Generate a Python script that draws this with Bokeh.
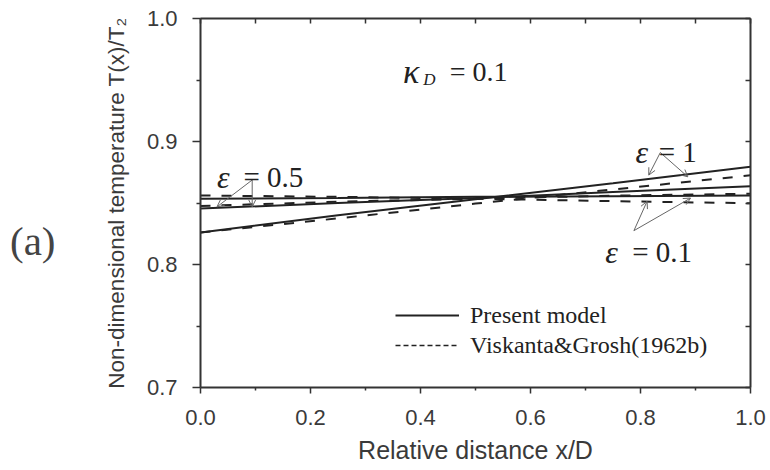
from bokeh.plotting import figure
from bokeh.models import (Range1d, LinearAxis, FixedTicker, PrintfTickFormatter, Label,
                          Arrow, OpenHead, ColumnDataSource, Legend, LegendItem)
from bokeh.embed import file_html
from bokeh.resources import INLINE

# ---------------- data ----------------
x_pos = [0.0, 0.25, 0.5, 0.75, 1.0]
present_eps1 = [0.826, 0.840, 0.853, 0.866, 0.8795]
viskanta_eps1 = [0.826, 0.8375, 0.8495, 0.861, 0.8725]
present_eps05 = [0.8455, 0.850, 0.854, 0.859, 0.8636]
viskanta_eps05 = [0.8476, 0.851, 0.8535, 0.856, 0.8575]
present_eps01 = [0.8534, 0.854, 0.855, 0.8555, 0.856]
viskanta_eps01 = [0.8561, 0.855, 0.8535, 0.8515, 0.8498]

x_ticks = [0.0, 0.2, 0.4, 0.6, 0.8, 1.0]
x_minor = [0.1, 0.3, 0.5, 0.7, 0.9]
y_ticks = [0.7, 0.8, 0.9, 1.0]
y_minor = [0.75, 0.85, 0.95]

legend_labels = ["Present model", "Viskanta&Grosh(1962b)"]
x_title = "Relative distance x/D"
y_title = "Non-dimensional temperature T(x)/T\u2082"
panel_tag = "(a)"
panel_tag_at = 0.8195

# annotation arrows (label anchor -> curve)
arrow_x0 = [0.094, 0.094, 0.836, 0.836, 0.788, 0.788]
arrow_y0 = [0.8687, 0.8687, 0.891, 0.891, 0.8275, 0.8275]
arrow_x1 = [0.030, 0.094, 0.815, 0.886, 0.812, 0.891]
arrow_y1 = [0.8469, 0.8469, 0.8727, 0.8713, 0.8514, 0.854]

INK = "#222222"
AX = "#333333"
TXT = "#3a3a3a"

p = figure(width=766, height=466, x_range=Range1d(0, 1), y_range=Range1d(0.7, 1.0),
           output_backend="svg", toolbar_location=None,
           min_border_left=200, min_border_right=16, min_border_top=18, min_border_bottom=71)
p.grid.visible = False
p.outline_line_color = None
p.background_fill_color = "white"
p.border_fill_color = "white"

# ---------------- curves ----------------
for ys in (present_eps1, present_eps05, present_eps01):
    p.line(x_pos, ys, line_color=INK, line_width=2)
for ys in (viskanta_eps1, viskanta_eps05, viskanta_eps01):
    p.line(x_pos, ys, line_color=INK, line_width=2, line_dash="10 11")

# legend-only renderers (no visible data)
nan = float("nan")
leg_solid = p.line(x=[nan], y=[nan], line_color=INK, line_width=2)
leg_dash = p.line(x=[nan], y=[nan], line_color=INK, line_width=1.5, line_dash="5 3")
legend = Legend(items=[LegendItem(label=legend_labels[0], renderers=[leg_solid]),
                       LegendItem(label=legend_labels[1], renderers=[leg_dash])],
                location=(195, 27), glyph_width=64, glyph_height=30, label_height=30,
                spacing=0, padding=0, margin=0, label_standoff=11,
                border_line_color=None, background_fill_alpha=0,
                label_text_font="Liberation Serif", label_text_font_size="24px",
                label_text_color=INK)
p.add_layout(legend)

# ---------------- axes ----------------
xa = p.xaxis[0]
xa.ticker = FixedTicker(ticks=x_ticks, minor_ticks=x_minor)
xa.formatter = PrintfTickFormatter(format="%.1f")
xa.axis_label = x_title
ya = p.yaxis[0]
ya.ticker = FixedTicker(ticks=y_ticks, minor_ticks=y_minor)
ya.formatter = PrintfTickFormatter(format="%.1f")
ya.axis_label = y_title

for ax in (xa, ya):
    ax.axis_line_color = AX
    ax.axis_line_width = 2
    ax.major_tick_line_color = AX
    ax.minor_tick_line_color = AX
    ax.major_tick_line_width = 1.5
    ax.minor_tick_line_width = 1.5
    ax.major_tick_in = 0
    ax.minor_tick_in = 0
    ax.major_label_text_font = "Liberation Sans"
    ax.major_label_text_font_size = "22px"
    ax.major_label_text_color = TXT
    ax.axis_label_text_font = "Liberation Sans"
    ax.axis_label_text_font_style = "normal"
    ax.axis_label_text_color = TXT

xa.major_tick_out = 6
xa.minor_tick_out = 3
xa.major_label_standoff = 16
xa.axis_label_text_font_size = "25px"
xa.axis_label_standoff = 8
ya.major_tick_out = 8
ya.minor_tick_out = 4
ya.major_label_standoff = 15
ya.axis_label_text_font_size = "22.5px"
ya.axis_label_standoff = 15

# mirrored inward ticks on top / right (no labels)
top = LinearAxis(ticker=FixedTicker(ticks=[], minor_ticks=x_ticks + x_minor))
right = LinearAxis(ticker=FixedTicker(ticks=[], minor_ticks=y_ticks + y_minor))
for ax in (top, right):
    ax.axis_line_color = AX
    ax.axis_line_width = 2
    ax.minor_tick_line_color = AX
    ax.minor_tick_line_width = 1.5
    ax.minor_tick_in = 5
    ax.minor_tick_out = 0
    ax.major_tick_in = 0
    ax.major_tick_out = 0
p.add_layout(top, "above")
p.add_layout(right, "right")

# panel tag "(a)" as an outer left axis with one labelled tick
tag_axis = LinearAxis(ticker=FixedTicker(ticks=[panel_tag_at], minor_ticks=[]),
                      major_label_overrides={panel_tag_at: panel_tag})
tag_axis.axis_line_color = None
tag_axis.major_tick_line_color = None
tag_axis.minor_tick_line_color = None
tag_axis.major_tick_out = 0
tag_axis.major_tick_in = 0
tag_axis.major_label_standoff = 45
tag_axis.major_label_text_font = "Liberation Serif"
tag_axis.major_label_text_font_size = "41px"
tag_axis.major_label_text_color = "#444444"
p.add_layout(tag_axis, "left")

# ---------------- annotations ----------------
arrow_src = ColumnDataSource(dict(x0=arrow_x0, y0=arrow_y0, x1=arrow_x1, y1=arrow_y1))
p.add_layout(Arrow(end=OpenHead(size=7, line_color="#666666", line_width=1),
                   x_start="x0", y_start="y0", x_end="x1", y_end="y1",
                   line_color="#666666", line_width=1, source=arrow_src))

def lab(x, y, t, size, style="normal", color=INK):
    p.add_layout(Label(x=x, y=y, text=t, text_font="Liberation Serif",
                       text_font_size=size, text_font_style=style,
                       text_color=color, text_baseline="alphabetic", text_align="left"))

# kappa_D = 0.1
lab(0.368, 0.9566, "\u03ba", "34px", "italic")
lab(0.405, 0.9508, "D", "17px", "italic")
lab(0.453, 0.9566, "= 0.1", "28px")
# epsilon labels
lab(0.030, 0.8713, "\u03b5", "32px", "italic")
lab(0.078, 0.8713, "= 0.5", "29px")
lab(0.791, 0.8912, "\u03b5", "32px", "italic")
lab(0.833, 0.8912, "= 1", "29px")
lab(0.736, 0.8102, "\u03b5", "32px", "italic")
lab(0.785, 0.8102, "= 0.1", "29px")

open("out.html", "w").write(file_html(p, INLINE))
